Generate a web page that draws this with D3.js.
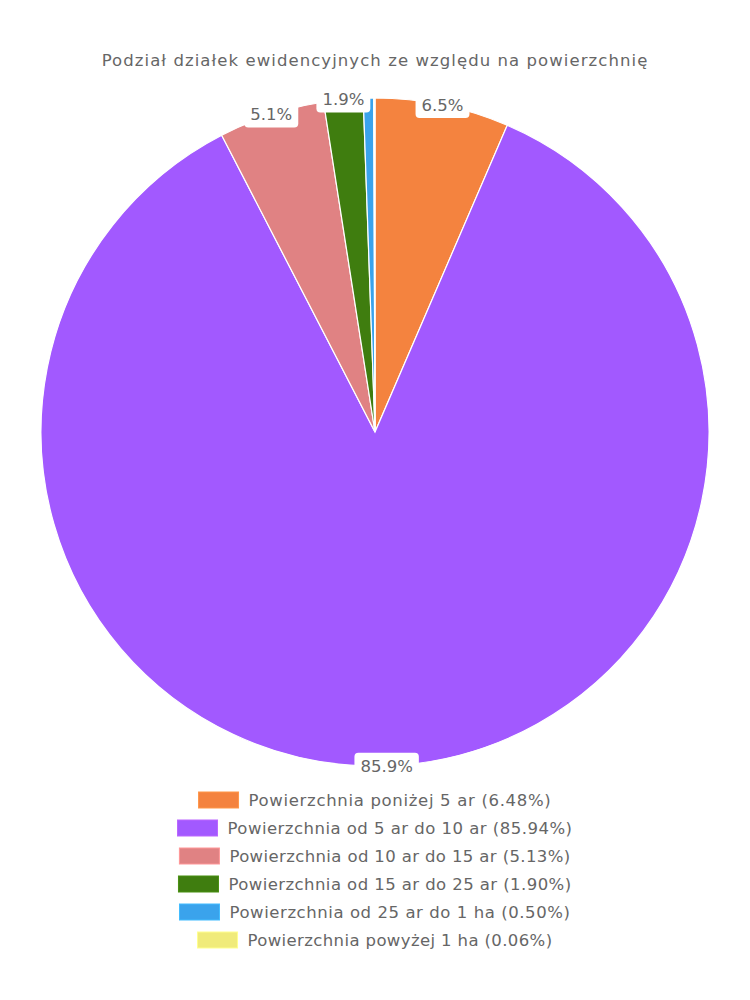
<!DOCTYPE html>
<html><head><meta charset="utf-8">
<script src="https://cdn.jsdelivr.net/npm/d3@7"></script>
<style>body{margin:0;background:#fff;}svg{display:block;}</style>
</head><body>
<svg id="chart" width="750" height="1000"></svg>
<script>
const title = "Podział działek ewidencyjnych ze względu na powierzchnię";
const categories = ["Powierzchnia poniżej 5 ar","Powierzchnia od 5 ar do 10 ar","Powierzchnia od 10 ar do 15 ar","Powierzchnia od 15 ar do 25 ar","Powierzchnia od 25 ar do 1 ha","Powierzchnia powyżej 1 ha"];
const values = [6.48, 85.94, 5.13, 1.90, 0.50, 0.06];
const colors = ["#F4833F","#A259FF","#E08283","#3F7D0F","#3AA3EC","#F0EB7A"];

const font = "'DejaVu Sans', sans-serif";
const svg = d3.select("#chart");
const cx = 375, cy = 432, r = 334;

function fit(t, target){
  const n = t.text().length;
  const w = t.node().getComputedTextLength();
  t.attr("letter-spacing", ((target - w) / n).toFixed(2));
}

const tt = svg.append("text").attr("x", cx).attr("y", 66).attr("text-anchor","middle")
  .attr("font-family", font).attr("font-size", 16.5).attr("fill","#666").text(title);
fit(tt, 547);

const pie = d3.pie().sort(null).value(d => d)(values);
const arc = d3.arc().innerRadius(0).outerRadius(r);
const g = svg.append("g").attr("transform", `translate(${cx},${cy})`);
g.selectAll("path").data(pie).join("path")
  .attr("d", arc).attr("fill", (d,i) => colors[i])
  .attr("stroke","#fff").attr("stroke-width",1.2);

const labelArc = d3.arc().innerRadius(r).outerRadius(r);
const lab = g.selectAll("g.lab").data(pie.filter(d => d.value >= 1)).join("g")
  .attr("class","lab")
  .attr("transform", d => { const c = labelArc.centroid(d); return `translate(${c[0]},${c[1]})`; });
lab.each(function(d){
  const sel = d3.select(this);
  const t = sel.append("text").attr("text-anchor","middle").attr("dy","0.36em")
    .attr("font-family", font).attr("font-size", 16.5).attr("fill","#666")
    .text(d3.format(".1f")(d.value) + "%");
  const bb = t.node().getBBox();
  sel.insert("rect","text").attr("x", bb.x - 6).attr("y", -13).attr("width", bb.width + 12)
    .attr("height", 26).attr("rx", 4).attr("fill","#fff");
});

const legY0 = 800, legStep = 28;
const legTargets = [303, 345, 341, 343, 341, 305];
const leg = svg.append("g");
categories.forEach((c,i) => {
  const row = leg.append("g");
  const t = row.append("text").attr("x", 0).attr("y", legY0 + i*legStep).attr("dy","0.35em")
    .attr("font-family", font).attr("font-size", 16.5).attr("fill","#666")
    .text(`${c} (${d3.format(".2f")(values[i])}%)`);
  fit(t, legTargets[i]);
  const w = t.node().getComputedTextLength();
  const total = 40 + 10 + w;
  const x0 = cx - total/2;
  t.attr("x", x0 + 50);
  row.insert("rect","text").attr("x", x0).attr("y", legY0 + i*legStep - 8).attr("width", 40).attr("height", 16)
    .attr("fill", colors[i]).attr("stroke", d3.color(colors[i]).brighter(0.4)).attr("stroke-width",1);
});
</script>
</body></html>
